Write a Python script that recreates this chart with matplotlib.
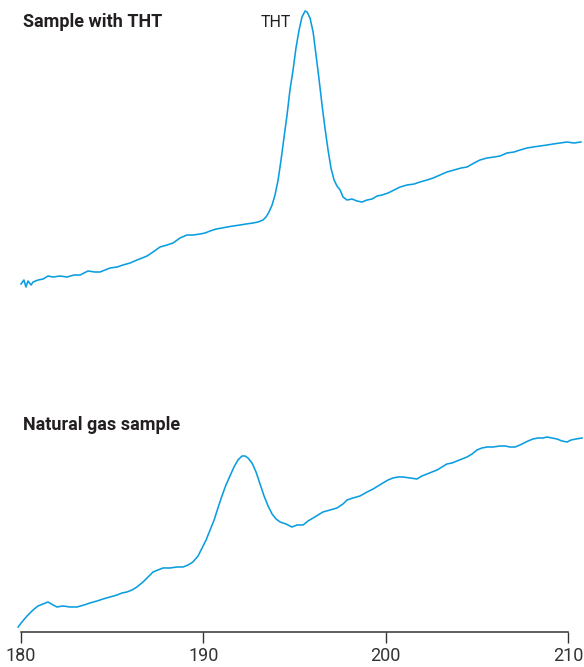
import numpy as np
import matplotlib
matplotlib.use("Agg")
import matplotlib.pyplot as plt

# wavelength (nm) and signal for the sample spiked with THT
x_tht = [180.0, 180.16, 180.27, 180.38, 180.55, 180.66, 180.93, 181.21, 181.48, 181.76,
         182.14, 182.52, 182.91, 183.24, 183.67, 184.06, 184.33, 184.88, 185.27, 185.59,
         185.98, 186.36, 186.64, 186.91, 187.24, 187.62, 188.01, 188.34, 188.72, 189.10,
         189.43, 189.82, 190.09, 190.37, 190.70, 191.02, 191.30, 191.63, 192.01, 192.34,
         192.72, 193.00, 193.27, 193.44, 193.60, 193.77, 193.93, 194.10, 194.26, 194.42,
         194.59, 194.75, 194.92, 195.08, 195.25, 195.41, 195.58, 195.69, 195.85, 196.02,
         196.18, 196.35, 196.51, 196.67, 196.84, 197.00, 197.17, 197.33, 197.50, 197.66,
         197.88, 198.15, 198.43, 198.70, 198.98, 199.25, 199.53, 199.80, 200.13, 200.46,
         200.79, 201.17, 201.56, 201.88, 202.27, 202.60, 202.98, 203.36, 203.75, 204.13,
         204.46, 204.85, 205.17, 205.56, 205.94, 206.27, 206.65, 207.04, 207.37, 207.75,
         208.08, 208.46, 208.85, 209.18, 209.56, 209.95, 210.33, 210.71]
y_tht = [0.16, 0.20, 0.13, 0.19, 0.15, 0.18, 0.20, 0.21, 0.24, 0.23,
         0.24, 0.23, 0.25, 0.25, 0.29, 0.28, 0.28, 0.32, 0.33, 0.35,
         0.37, 0.40, 0.42, 0.44, 0.48, 0.53, 0.55, 0.57, 0.62, 0.65,
         0.65, 0.66, 0.67, 0.69, 0.71, 0.72, 0.73, 0.74, 0.75, 0.76,
         0.77, 0.78, 0.80, 0.83, 0.88, 0.95, 1.05, 1.20, 1.40, 1.62,
         1.85, 2.10, 2.30, 2.52, 2.70, 2.83, 2.89, 2.88, 2.82, 2.68,
         2.45, 2.20, 1.95, 1.72, 1.50, 1.32, 1.20, 1.14, 1.10, 1.03,
         1.00, 1.01, 0.99, 0.98, 1.00, 1.01, 1.04, 1.05, 1.07, 1.10,
         1.13, 1.15, 1.16, 1.18, 1.20, 1.22, 1.25, 1.28, 1.30, 1.32,
         1.33, 1.37, 1.40, 1.42, 1.43, 1.44, 1.47, 1.48, 1.50, 1.52,
         1.53, 1.54, 1.55, 1.56, 1.57, 1.58, 1.57, 1.58]

# natural gas sample
x_gas = [179.84, 180.05, 180.33, 180.66, 180.93, 181.21, 181.48, 181.76, 181.97, 182.30,
         182.69, 183.07, 183.46, 183.78, 184.17, 184.50, 184.88, 185.27, 185.54, 185.81,
         186.09, 186.36, 186.69, 186.97, 187.24, 187.51, 187.79, 188.17, 188.56, 188.89,
         189.16, 189.43, 189.71, 189.93, 190.15, 190.37, 190.59, 190.80, 191.02, 191.24,
         191.46, 191.68, 191.90, 192.12, 192.29, 192.45, 192.67, 192.89, 193.11, 193.33,
         193.55, 193.77, 193.99, 194.21, 194.53, 194.86, 195.14, 195.47, 195.74, 196.02,
         196.29, 196.56, 196.95, 197.33, 197.66, 197.88, 198.21, 198.59, 198.98, 199.31,
         199.58, 199.85, 200.13, 200.40, 200.68, 200.95, 201.34, 201.72, 201.99, 202.27,
         202.54, 202.82, 203.09, 203.36, 203.64, 203.91, 204.19, 204.46, 204.74, 205.01,
         205.28, 205.56, 205.89, 206.27, 206.55, 206.82, 207.10, 207.37, 207.59, 207.81,
         208.08, 208.36, 208.63, 208.85, 209.12, 209.40, 209.67, 209.95, 210.17, 210.44,
         210.77]
y_gas = [0.05, 0.10, 0.16, 0.22, 0.26, 0.28, 0.30, 0.27, 0.25, 0.26,
         0.25, 0.25, 0.27, 0.29, 0.31, 0.33, 0.35, 0.37, 0.39, 0.40,
         0.42, 0.45, 0.50, 0.55, 0.60, 0.62, 0.64, 0.64, 0.65, 0.65,
         0.67, 0.70, 0.76, 0.84, 0.92, 1.02, 1.12, 1.24, 1.36, 1.47,
         1.56, 1.65, 1.72, 1.76, 1.76, 1.74, 1.69, 1.60, 1.48, 1.36,
         1.26, 1.18, 1.13, 1.10, 1.08, 1.05, 1.07, 1.07, 1.11, 1.14,
         1.17, 1.20, 1.22, 1.24, 1.28, 1.32, 1.34, 1.36, 1.40, 1.43,
         1.46, 1.49, 1.52, 1.54, 1.55, 1.55, 1.54, 1.53, 1.56, 1.58,
         1.60, 1.62, 1.65, 1.68, 1.69, 1.71, 1.73, 1.75, 1.78, 1.82,
         1.84, 1.85, 1.85, 1.86, 1.86, 1.85, 1.85, 1.87, 1.89, 1.91,
         1.93, 1.94, 1.94, 1.95, 1.94, 1.93, 1.91, 1.90, 1.92, 1.93,
         1.94]

x_ticks = [180, 190, 200, 210]

blue = "#0a9de0"
font = ["Roboto", "DejaVu Sans"]

fig = plt.figure(figsize=(5.84, 6.67), dpi=100)
ax1 = fig.add_axes([0.036, 0.5502, 0.9366, 0.4498])
ax2 = fig.add_axes([0.036, 0.0525, 0.9366, 0.3478])

ax1.plot(x_tht, y_tht, color=blue, lw=1.15, clip_on=False)
ax2.plot(x_gas, y_gas, color=blue, lw=1.15, clip_on=False)

for ax in (ax1, ax2):
    ax.set_xlim(180, 210)
    for s in ("top", "right", "left"):
        ax.spines[s].set_visible(False)
    ax.set_yticks([])

ax1.set_ylim(0, 3.0)
ax1.spines["bottom"].set_visible(False)
ax1.set_xticks([])

ax2.set_ylim(0, 2.32)
ax2.spines["bottom"].set_color("#333333")
ax2.spines["bottom"].set_linewidth(1.1)
ax2.set_xticks(x_ticks)
ax2.set_xticklabels([str(t) for t in x_ticks], family=font, fontsize=13, color="#333333")
ax2.tick_params(axis="x", direction="out", length=8, width=1.0, color="#333333", pad=3)

ax1.text(180.1, 2.78, "Sample with THT", family=font, fontsize=13, fontweight="bold",
         color="#231f20", va="center", ha="left")
ax1.text(193.95, 2.78, "THT", family=font, fontsize=11.5, color="#231f20",
         va="center", ha="center")
ax2.text(180.1, 2.07, "Natural gas sample", family=font, fontsize=13, fontweight="bold",
         color="#231f20", va="center", ha="left")

fig.savefig("out.png", dpi=100)
